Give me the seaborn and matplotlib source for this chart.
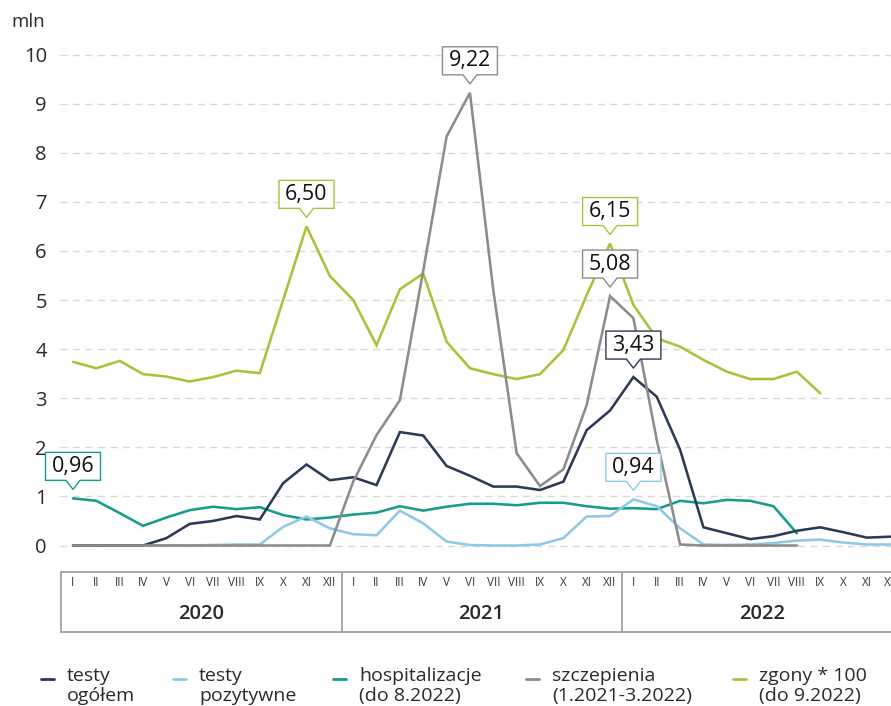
import numpy as np
import pandas as pd
import matplotlib
matplotlib.use("Agg")
import matplotlib.pyplot as plt
import matplotlib.transforms as mtransforms
from matplotlib.lines import Line2D
from matplotlib.patches import Polygon
import seaborn as sns

# ---------------- data ----------------
years = ["2020", "2021", "2022"]
months = ["I", "II", "III", "IV", "V", "VI", "VII", "VIII", "IX", "X", "XI", "XII"]

# monthly values, starting I.2020 (mln)
testy_ogolem = [0.00, 0.00, 0.00, 0.00, 0.15, 0.44, 0.50, 0.60, 0.53, 1.27, 1.65, 1.33,
                1.39, 1.23, 2.31, 2.24, 1.62, 1.42, 1.20, 1.20, 1.13, 1.30, 2.35, 2.75,
                3.43, 3.03, 1.95, 0.37, 0.25, 0.13, 0.19, 0.30, 0.37, 0.27, 0.16, 0.18]
testy_pozytywne = [0.00, 0.00, 0.00, 0.00, 0.00, 0.00, 0.01, 0.02, 0.02, 0.38, 0.59, 0.35,
                   0.23, 0.21, 0.71, 0.45, 0.08, 0.01, 0.00, 0.00, 0.02, 0.15, 0.59, 0.60,
                   0.94, 0.80, 0.35, 0.02, 0.01, 0.02, 0.05, 0.10, 0.12, 0.06, 0.02, 0.02]
hospitalizacje = [0.96, 0.91, 0.66, 0.40, 0.57, 0.72, 0.79, 0.74, 0.78, 0.62, 0.53, 0.57,
                  0.63, 0.67, 0.80, 0.71, 0.79, 0.85, 0.85, 0.82, 0.87, 0.87, 0.80, 0.75,
                  0.76, 0.74, 0.91, 0.86, 0.93, 0.91, 0.80, 0.25]
szczepienia = [0.00, 0.00, 0.00, 0.00, 0.00, 0.00, 0.00, 0.00, 0.00, 0.00, 0.00, 0.00,
               1.30, 2.25, 2.96, 5.60, 8.33, 9.22, 5.20, 1.88, 1.21, 1.55, 2.86, 5.08,
               4.63, 2.15, 0.02, 0.00, 0.00, 0.00, 0.00, 0.00]
zgony_x100 = [3.74, 3.61, 3.76, 3.49, 3.44, 3.34, 3.43, 3.56, 3.51, 5.00, 6.50, 5.49,
              5.00, 4.08, 5.22, 5.54, 4.15, 3.61, 3.49, 3.39, 3.49, 3.98, 5.10, 6.15,
              4.90, 4.22, 4.05, 3.78, 3.54, 3.39, 3.39, 3.54, 3.10]

series_names = ["testy\nogółem", "testy\npozytywne", "hospitalizacje\n(do 8.2022)",
                "szczepienia\n(1.2021-3.2022)", "zgony * 100\n(do 9.2022)"]
series_values = [testy_ogolem, testy_pozytywne, hospitalizacje, szczepienia, zgony_x100]
series_colors = ["#2c3a56", "#8fc9e6", "#179c8e", "#8c8c8c", "#a6c43a"]

# callouts: (series index, month index, text)
callouts = [(2, 0, "0,96"), (4, 10, "6,50"), (3, 17, "9,22"), (4, 23, "6,15"),
            (3, 23, "5,08"), (0, 24, "3,43"), (1, 24, "0,94")]

# ---------------- style ----------------
sns.set_style("white")
plt.rcParams["font.family"] = ["Open Sans", "DejaVu Sans"]
TXT = "#2a2a2a"

W, H = 891, 706
fig = plt.figure(figsize=(W / 100, H / 100), dpi=100)

# axes geometry in pixels
ax_left_px = 60
ymin, ymax = -0.3, 10.3
px_per_unit = 49.1
y0_px = 545.5
ax_top_px = y0_px - ymax * px_per_unit
ax_bot_px = y0_px - ymin * px_per_unit
ax = fig.add_axes([ax_left_px / W, 1 - ax_bot_px / H,
                   1 - ax_left_px / W, (ax_bot_px - ax_top_px) / H])

x_first_px, step_px = 73.0, 23.35
xmin = -(x_first_px - ax_left_px) / step_px
xmax = (W - x_first_px) / step_px
ax.set_xlim(xmin, xmax)
ax.set_ylim(ymin, ymax)

# draw order: zgony, hospitalizacje, pozytywne, ogolem, szczepienia
order = [4, 2, 1, 0, 3]
for k in order:
    vals = series_values[k]
    df = pd.DataFrame({"m": np.arange(len(vals)), "v": vals})
    sns.lineplot(data=df, x="m", y="v", color=series_colors[k], linewidth=1.85,
                 ax=ax, legend=False, zorder=3 + order.index(k),
                 solid_joinstyle="miter")

for s in ax.spines.values():
    s.set_visible(False)
ax.set_xlabel("")
ax.set_ylabel("")
ax.set_xticks([])
ax.set_yticks(range(0, 11))
ax.set_yticklabels([str(v) for v in range(0, 11)], fontsize=14.5, color=TXT)
ax.tick_params(axis="y", length=0, pad=9.5)
ax.yaxis.grid(True, linestyle=(0, (5, 4)), color="#d9d9d9", linewidth=1.0)
ax.set_axisbelow(True)

fig.text(11 / W, 1 - 22 / H, "mln", fontsize=13.5, color=TXT, ha="left", va="center")

# ---------------- callouts ----------------
def callout(x, y, text, color):
    trans = fig.dpi_scale_trans + mtransforms.ScaledTranslation(x, y, ax.transData)
    hw, tip, base, top, pw = 27.5, 9, 18, 46, 7
    verts = np.array([(0, tip), (pw, base), (hw, base), (hw, top), (-hw, top),
                      (-hw, base), (-pw, base)]) / 100.0
    poly = Polygon(verts, closed=True, transform=trans, facecolor="white",
                   edgecolor=color, linewidth=1.0, clip_on=False, zorder=20,
                   joinstyle="round")
    ax.add_patch(poly)
    ax.annotate(text, xy=(x, y), xytext=(0, 32 * 0.72), textcoords="offset points",
                ha="center", va="center", fontsize=15.5, color="#111111",
                zorder=21, annotation_clip=False)

for si, mi, t in callouts:
    callout(mi, series_values[si][mi], t, series_colors[si])

# ---------------- x-axis table ----------------
bt = mtransforms.blended_transform_factory(ax.transData, fig.transFigure)
y_top = 1 - 571.7 / H
y_bot = 1 - 632.3 / H
y_month = 1 - 583 / H
y_year = 1 - 614 / H
line_kw = dict(color="#a3a3a3", linewidth=1.3, transform=bt, clip_on=False)
for yy in (y_top, y_bot):
    ax.add_line(Line2D([-0.5, 40], [yy, yy], **line_kw))
for b in (-0.5, 11.5, 23.5):
    ax.add_line(Line2D([b, b], [y_bot, y_top], **line_kw))
for yi, yr in enumerate(years):
    for mi, mn in enumerate(months):
        ax.text(yi * 12 + mi, y_month, mn, transform=bt, ha="center", va="center",
                fontsize=8.5, color="#3a3a3a", clip_on=False)
    ax.text(yi * 12 + 5.5, y_year, yr, transform=bt, ha="center", va="center",
            fontsize=14.5, fontweight="semibold", color=TXT, clip_on=False)

# ---------------- legend ----------------
leg_x = [41, 173, 333, 526, 733]
for k in range(5):
    x0 = leg_x[k]
    fig.add_artist(Line2D([x0 / W, (x0 + 13) / W], [1 - 679 / H, 1 - 679 / H],
                          color=series_colors[k], linewidth=2.0,
                          transform=fig.transFigure))
    fig.text((x0 + 26) / W, 1 - 667 / H, series_names[k], fontsize=14,
             color=TXT, ha="left", va="top", linespacing=1.12)

fig.savefig("out.png", dpi=100, facecolor="white")
